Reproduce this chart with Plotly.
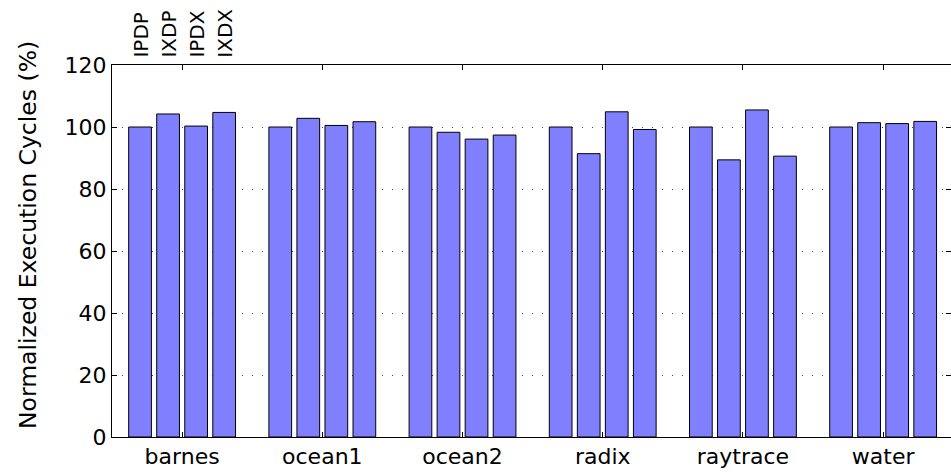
import plotly.graph_objects as go

categories = ["barnes", "ocean1", "ocean2", "radix", "raytrace", "water"]
series_names = ["IPDP", "IXDP", "IPDX", "IXDX"]
IPDP = [100, 100, 100, 100, 100, 100]
IXDP = [104.2, 102.8, 98.3, 91.4, 89.4, 101.4]
IPDX = [100.3, 100.5, 96.1, 104.9, 105.5, 101.1]
IXDX = [104.7, 101.7, 97.4, 99.2, 90.6, 101.8]
series_values = [IPDP, IXDP, IPDX, IXDX]
y_ticks = [0, 20, 40, 60, 80, 100, 120]
y_title = "Normalized Execution Cycles (%)"

FONT = "DejaVu Sans"
BARGAP = 0.2

fig = go.Figure()
for name, vals in zip(series_names, series_values):
    fig.add_trace(go.Bar(
        x=categories, y=vals, name=name,
        marker=dict(color="#8080FF", line=dict(color="black", width=1)),
    ))

n = len(series_names)
slot = (1 - BARGAP) / n
for i, name in enumerate(series_names):
    fig.add_annotation(
        x=(i - (n - 1) / 2) * slot, xref="x",
        y=1, yref="paper", yshift=5,
        text=name, showarrow=False, textangle=-90,
        xanchor="center", yanchor="bottom",
        font=dict(family=FONT, size=20, color="black"),
    )

# y-axis title
fig.add_annotation(
    x=0, xref="paper", xshift=-84, y=0.543, yref="paper",
    text=y_title, showarrow=False, textangle=-90,
    xanchor="center", yanchor="middle",
    font=dict(family=FONT, size=23.5, color="black"),
)

fig.update_layout(
    width=951, height=476,
    margin=dict(l=112, r=0, t=65, b=39, autoexpand=False),
    paper_bgcolor="white", plot_bgcolor="white",
    barmode="group", bargap=BARGAP, bargroupgap=0.19,
    showlegend=False,
    font=dict(family=FONT, size=22, color="black"),
)
fig.update_xaxes(
    range=[-0.5, 5.484], automargin=False,
    showline=True, linecolor="black", linewidth=1, mirror="ticks",
    ticks="inside", ticklen=5, tickcolor="black",
    showgrid=False, tickfont=dict(family=FONT, size=22),
)
fig.update_yaxes(
    range=[0, 120], tickvals=y_ticks, automargin=False,
    showline=True, linecolor="black", linewidth=1, mirror="ticks",
    ticks="inside", ticklen=5, tickcolor="black",
    showgrid=True, gridcolor="#444444", gridwidth=1, griddash="1px,9px",
    zeroline=False, tickfont=dict(family=FONT, size=22),
)

fig.write_html(
    "out.html",
    config={"displayModeBar": False},
    post_script="document.body.style.margin='0';"
                "document.documentElement.style.overflow='hidden';",
)
